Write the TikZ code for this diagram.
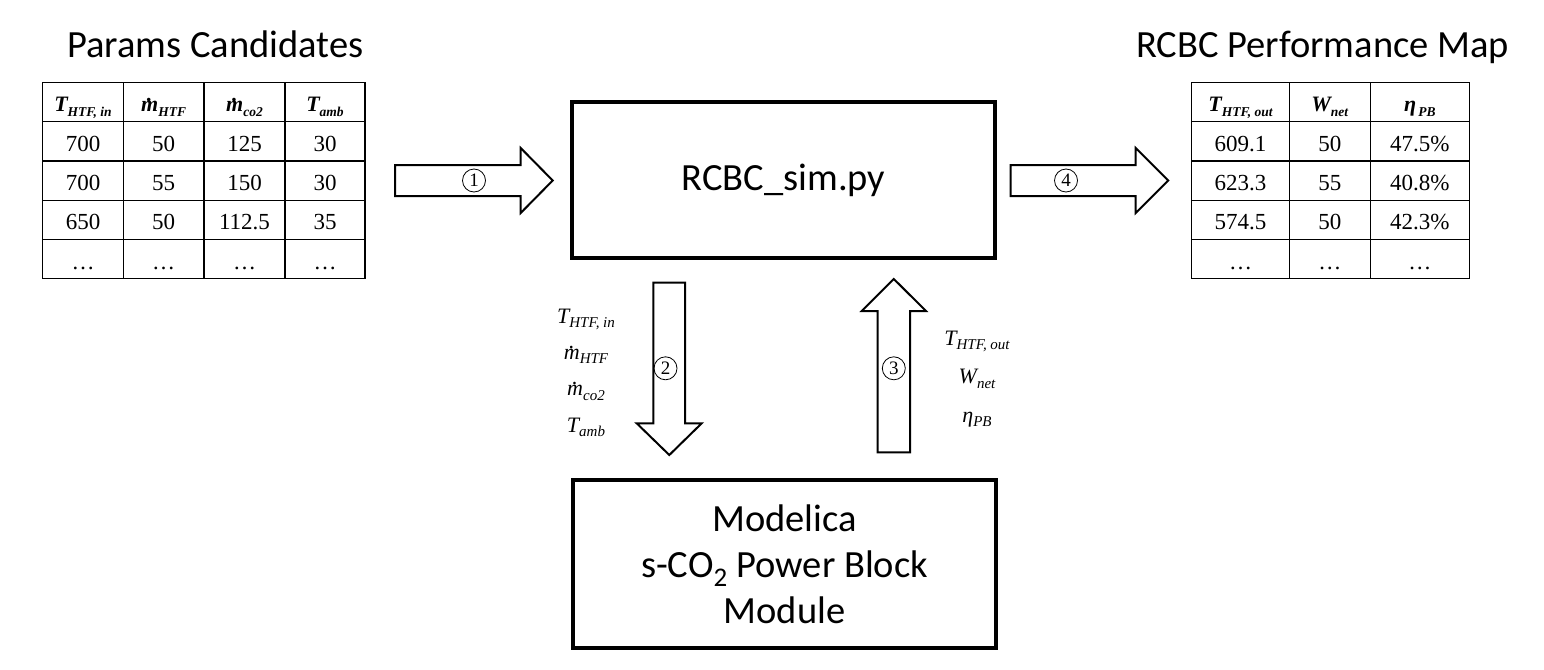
\documentclass[tikz,border=0pt]{standalone}
\usepackage{fontspec}
\setmainfont{Carlito}
\newfontfamily\tnr{Liberation Serif}
\newcommand\Ssub[1]{\raisebox{-0.22em}{\fontsize{13.5}{14}\selectfont #1}}
\newcommand\Lsub[1]{\raisebox{-0.22em}{\fontsize{15}{15}\selectfont #1}}
\newcommand\mdt{{\ooalign{m\cr\hidewidth\raisebox{0.48em}{.}\hidewidth\cr}}}
\begin{document}
\begin{tikzpicture}[x=1pt,y=-1pt,
 box/.style={draw,line width=4pt,inner sep=0pt},
 blk/.style={draw,line width=2pt,line join=miter,fill=white},
 title/.style={anchor=base,font=\fontsize{38.5}{46}\selectfont,inner sep=0pt},
 big/.style={font=\fontsize{38.5}{46}\selectfont,align=center},
 num/.style={anchor=base,font=\tnr\fontsize{23}{27}\selectfont,inner sep=0pt},
 hd/.style={anchor=base,font=\tnr\bfseries\itshape\fontsize{22}{26}\selectfont,inner sep=0pt},
 lbl/.style={anchor=base,font=\tnr\itshape\fontsize{22}{26}\selectfont,inner sep=0pt},
 circ/.style={circle,draw,line width=0.8pt,inner sep=0pt,minimum size=23pt,font=\tnr\fontsize{19}{19}\selectfont},
 gridline/.style={line width=1.4pt}]
\useasboundingbox (0,0) rectangle (1544,669);

% titles
\node[title] (t1) at (215.5,58) {Params Candidates};
\node[title] (t2) at (1322.5,58) {RCBC Performance Map};

% left table
\draw[gridline] (42.7,82.3) rectangle (365,278.3);
\foreach \x in {123.3,204,285} \draw[gridline] (\x,82.3) -- (\x,278.3);
\foreach \y in {121.7,161,200.3,239.3} \draw[gridline] (42.7,\y) -- (365,\y);
\node[hd] (LH1) at (83,111.7) {T\Ssub{HTF, in}};
\node[hd] (LH2) at (163.6,111.7) {\mdt\Ssub{HTF}};
\node[hd] (LH3) at (244.5,111.7) {\mdt\Ssub{co2}};
\node[hd] (LH4) at (325,111.7) {T\Ssub{amb}};
\foreach \a/\b/\c/\d [count=\r] in {700/50/125/30, 700/55/150/30, 650/50/112.5/35, …/…/…/…} {
  \node[num] (L\r a) at (83,{151.5+39.2*(\r-1)}) {\a};
  \node[num] (L\r b) at (163.6,{151.5+39.2*(\r-1)}) {\b};
  \node[num] (L\r c) at (244.5,{151.5+39.2*(\r-1)}) {\c};
  \node[num] (L\r d) at (325,{151.5+39.2*(\r-1)}) {\d};
}

% right table
\draw[gridline] (1191.7,82.3) rectangle (1469.3,278.3);
\foreach \x in {1289.3,1370.3} \draw[gridline] (\x,82.3) -- (\x,278.3);
\foreach \y in {121.7,161,200.3,239.3} \draw[gridline] (1191.7,\y) -- (1469.3,\y);
\node[hd] (RH1) at (1240.5,111.7) {T\Ssub{HTF, out}};
\node[hd] (RH2) at (1329.8,111.7) {W\Ssub{net}};
\node[hd] (RH3) at (1419.8,111.7) {η\Ssub{\,PB}};
\foreach \a/\b/\c [count=\r] in {609.1/50/47.5\%, 623.3/55/40.8\%, 574.5/50/42.3\%, …/…/…} {
  \node[num] (R\r a) at (1240.5,{151.5+39.2*(\r-1)}) {\a};
  \node[num] (R\r b) at (1329.8,{151.5+39.2*(\r-1)}) {\b};
  \node[num] (R\r c) at (1419.8,{151.5+39.2*(\r-1)}) {\c};
}

% main boxes
\node[box,big,minimum width=423pt,minimum height=156pt] (sim) at (783.5,180) {RCBC\_sim.py};
\node[box,big,minimum width=423pt,minimum height=168pt] (mod) at (784.5,564) {Modelica\\s-CO\textsubscript{2} Power Block\\Module};

% block arrows
\draw[blk] (395,165) -- (520.7,165) -- (520.7,148) -- (552.7,180.5) -- (520.7,213) -- (520.7,196) -- (395,196) -- cycle;
\node[circ] (n1) at (474,180.5) {1};
\draw[blk] (1010.7,165) -- (1135.7,165) -- (1135.7,148) -- (1168.3,180.5) -- (1135.7,213) -- (1135.7,196) -- (1010.7,196) -- cycle;
\node[circ] (n4) at (1066,180.5) {4};
\draw[blk] (653.3,282.7) -- (685,282.7) -- (685,423.3) -- (701.7,423.3) -- (669.3,455) -- (636.7,423.3) -- (653.3,423.3) -- cycle;
\node[circ] (n2) at (665.5,368.3) {2};
\draw[blk] (877.7,452.3) -- (910,452.3) -- (910,311) -- (926,311) -- (893.8,279) -- (861.7,311) -- (877.7,311) -- cycle;
\node[circ] (n3) at (893.8,368.3) {3};

% arrow labels
\node[lbl] (a1) at (586,323) {T\Lsub{HTF, in}};
\node[lbl] (a2) at (586,359) {\mdt\Lsub{HTF}};
\node[lbl] (a3) at (586,395.5) {\mdt\Lsub{co2}};
\node[lbl] (a4) at (586,432) {T\Lsub{amb}};
\node[lbl] (b1) at (977,345) {T\Lsub{HTF, out}};
\node[lbl] (b2) at (977,383.5) {W\Lsub{net}};
\node[lbl] (b3) at (977,422) {η\Lsub{PB}};
\end{tikzpicture}
\end{document}
